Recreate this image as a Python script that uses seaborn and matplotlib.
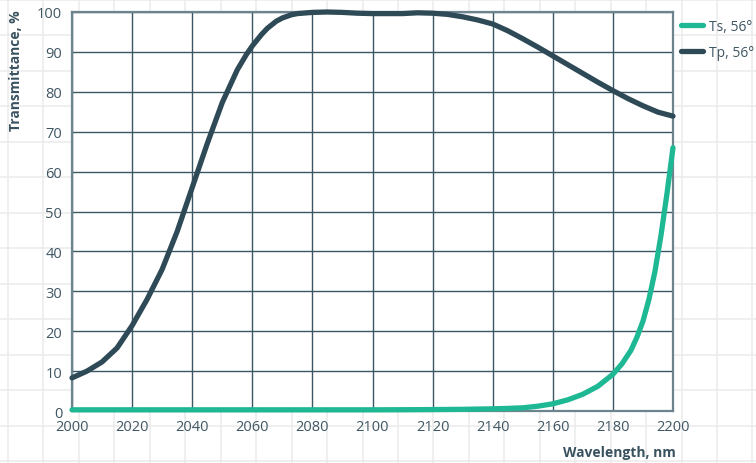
import numpy as np
import pandas as pd
import matplotlib
matplotlib.use("Agg")
import matplotlib.pyplot as plt
from matplotlib.lines import Line2D
import seaborn as sns

# Transmittance of a polarizer at 56° incidence, 2000–2200 nm
wl_tp = [2000, 2005, 2010, 2015, 2020, 2025, 2030, 2035, 2040, 2045, 2050,
         2055, 2058, 2060, 2063, 2065, 2068, 2070, 2073, 2075, 2080, 2085,
         2090, 2095, 2100, 2105, 2110, 2115, 2120, 2125, 2130, 2135, 2140,
         2145, 2150, 2155, 2160, 2165, 2170, 2175, 2180, 2185, 2190, 2195,
         2200]
tp = [8.3, 10.0, 12.3, 15.8, 21.4, 28.0, 35.5, 45.0, 56.0, 67.0, 77.3,
      85.5, 89.3, 91.5, 94.3, 95.9, 97.7, 98.5, 99.3, 99.6, 99.9, 100.0,
      99.9, 99.7, 99.6, 99.6, 99.6, 99.8, 99.7, 99.4, 98.8, 98.0, 97.0,
      95.3, 93.3, 91.2, 89.0, 86.8, 84.6, 82.4, 80.3, 78.3, 76.5, 74.9,
      73.9]

wl_ts = [2000, 2020, 2040, 2060, 2080, 2100, 2110, 2120, 2130, 2140, 2145,
         2150, 2155, 2160, 2165, 2170, 2175, 2180, 2183, 2186, 2188, 2190,
         2192, 2194, 2196, 2198, 2200]
ts = [0.3, 0.3, 0.3, 0.3, 0.3, 0.3, 0.32, 0.36, 0.42, 0.55, 0.65,
      0.8, 1.2, 1.8, 2.8, 4.2, 6.2, 9.2, 11.8, 15.2, 18.5, 22.5,
      28.0, 35.0, 44.0, 54.5, 66.0]

series_names = ["Ts, 56°", "Tp, 56°"]
x_ticks = list(range(2000, 2201, 20))
y_ticks = list(range(0, 101, 10))

df = pd.concat([
    pd.DataFrame({"Wavelength": wl_ts, "T": ts, "series": series_names[0]}),
    pd.DataFrame({"Wavelength": wl_tp, "T": tp, "series": series_names[1]}),
])

sns.set_style("white")
plt.rcParams["font.family"] = ["Open Sans", "DejaVu Sans"]

W, H = 756, 464
fig = plt.figure(figsize=(W / 100, H / 100), dpi=100)
fig.patch.set_facecolor("white")

# graph-paper background behind the whole figure
bg = fig.add_axes([0, 0, 1, 1], zorder=0)
bg.set_xlim(0, W)
bg.set_ylim(H, 0)
bg.axis("off")
for gx in np.arange(8, W, 35.45):
    bg.axvline(gx, color="#ebebeb", lw=1.1)
for gy in np.arange(0.5, H, 35.5):
    bg.axhline(gy, color="#ebebeb", lw=1.1)

ax = fig.add_axes([72 / W, 1 - 412 / H, (673 - 72) / W, (412 - 13) / H], zorder=1)
ax.set_facecolor("white")

palette = {series_names[0]: "#1fb894", series_names[1]: "#2f4a57"}
sns.lineplot(data=df, x="Wavelength", y="T", hue="series", palette=palette,
             hue_order=series_names, lw=3.8, ax=ax, legend=False,
             estimator=None, sort=True)
for ln in ax.lines:
    ln.set_clip_on(False)
    ln.set_zorder(5)
    ln.set_solid_capstyle("round")
    ln.set_solid_joinstyle("round")

ax.set_xlim(2000, 2200)
ax.set_ylim(0, 100)
ax.set_xticks(x_ticks)
ax.set_yticks(y_ticks)
ax.grid(True, color="#3b5664", lw=1.0)
ax.set_axisbelow(True)
for s in ax.spines.values():
    s.set_color("#6d838e")
    s.set_linewidth(1.6)
ax.tick_params(length=0, labelsize=10.5, labelcolor="#3f5663")
ax.tick_params(axis="x", pad=6)
ax.tick_params(axis="y", pad=7)
ax.set_xlabel("")
ax.set_ylabel("")

fig.text(16 / W, 1 - 10 / H, "Transmittance, %", rotation=90, ha="center",
         va="top", fontsize=10, fontweight="bold", color="#3a5260")
fig.text(676 / W, 1 - 453 / H, "Wavelength, nm", ha="right", va="center",
         fontsize=10, fontweight="bold", color="#3a5260")

handles = [Line2D([], [], color=palette[n], lw=3.8, solid_capstyle="round")
           for n in series_names]
fig.legend(handles, series_names, loc="upper left",
           bbox_to_anchor=(681 / W, 1 - 20 / H), frameon=False,
           fontsize=10, labelcolor="#3f5663", handlelength=1.6,
           handletextpad=0.4, labelspacing=0.8, borderaxespad=0,
           borderpad=0)

fig.savefig("out.png", dpi=100, facecolor="white")
